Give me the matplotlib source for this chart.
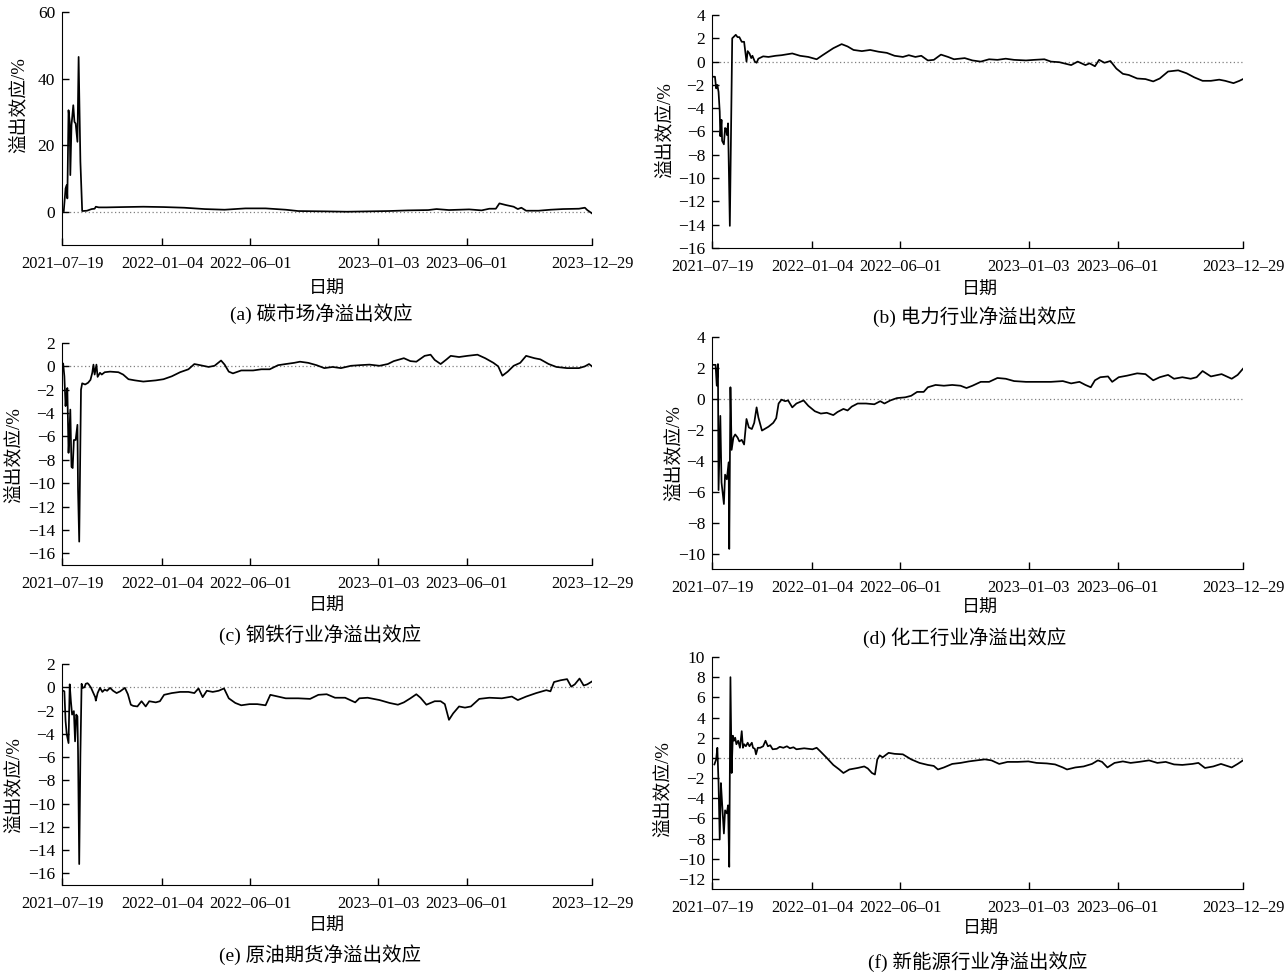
import matplotlib
matplotlib.use('Agg')
import matplotlib.pyplot as plt
import pandas as pd

plt.rcParams['font.family'] = ['Liberation Serif', 'Noto Sans CJK SC']
plt.rcParams['font.size'] = 13

START = pd.Timestamp('2021-07-19')
END = pd.Timestamp('2023-12-29')
tick_dates = ['2021-07-19', '2022-01-04', '2022-06-01', '2023-01-03', '2023-06-01', '2023-12-29']

# x values are days elapsed since 2021-07-19
carbon_day = [3, 6, 8, 9, 11, 13, 14, 16, 19, 21, 23, 26, 28, 31, 34, 42, 50, 55, 57, 62,
              75, 103, 137, 171, 206, 240, 274, 309, 343, 377, 398, 446, 480, 514, 549, 583,
              617, 631, 652, 686, 707, 720, 731, 737, 748, 761, 768, 774, 782, 803, 823, 844,
              871, 881, 885, 893]
carbon_val = [0.2, 7.0, 8.0, 4.0, 30.5, 27.0, 11.0, 26.0, 32.0, 27.0, 26.5, 21.0, 46.5, 15.0, 0.2,
              0.3, 0.8, 0.9, 1.5, 1.3, 1.3, 1.4, 1.5, 1.4, 1.2, 0.8, 0.6, 1.0, 1.0, 0.6, 0.2, 0.1,
              0.0, 0.1, 0.2, 0.4, 0.5, 0.8, 0.5, 0.7, 0.4, 0.9, 0.9, 2.5, 2.0, 1.5, 0.8, 1.2, 0.3,
              0.3, 0.6, 0.8, 0.9, 1.2, 0.5, -0.5]

power_day = [0, 5, 7, 9, 11, 13, 14, 16, 17, 20, 22, 24, 25, 27, 30, 34, 38, 40, 43, 46,
             50, 54, 58, 60, 63, 66, 68, 72, 75, 78, 86, 95, 107, 117, 135, 148, 162, 176, 186,
             204, 218, 228, 238, 252, 266, 280, 294, 307, 321, 331, 342, 352, 363, 373, 385,
             397, 407, 425, 438, 452, 466, 480, 494, 508, 528, 542, 559, 570, 584, 604, 615,
             628, 635, 644, 651, 660, 670, 680, 691, 701, 715, 729, 742, 753, 767, 784, 798,
             811, 825, 839, 853, 863, 877, 887, 893]
power_val = [-1.3, -1.3, -2.3, -2.0, -2.6, -4.3, -6.4, -5.0, -6.8, -7.1, -5.7, -5.8, -6.3, -5.3,
             -14.1, 2.0, 2.2, 2.3, 2.1, 2.1, 1.7, 1.7, 0.0, 0.9, 0.7, 0.3, 0.5, 0.0, -0.1, 0.25,
             0.45, 0.4, 0.5, 0.55, 0.7, 0.5, 0.4, 0.2, 0.55, 1.15, 1.5, 1.3, 1.0, 0.9, 1.0, 0.85,
             0.75, 0.5, 0.4, 0.55, 0.4, 0.5, 0.1, 0.15, 0.6, 0.4, 0.2, 0.3, 0.1, 0.0, 0.2, 0.15,
             0.25, 0.15, 0.1, 0.15, 0.2, 0.0, -0.05, -0.3, 0.0, -0.3, -0.15, -0.4, 0.15, -0.1,
             0.05, -0.6, -1.05, -1.15, -1.45, -1.5, -1.7, -1.45, -0.85, -0.75, -1.0, -1.35,
             -1.65, -1.65, -1.55, -1.65, -1.85, -1.65, -1.5]

steel_day = [2, 4, 6, 7, 9, 11, 12, 14, 16, 18, 20, 23, 26, 27, 29, 32, 34, 39, 44, 48,
             51, 53, 55, 58, 60, 64, 67, 72, 81, 95, 103, 112, 123, 137, 158, 171, 185, 199,
             213, 223, 233, 247, 257, 268, 274, 281, 288, 302, 322, 336, 350, 364, 377, 391,
             401, 415, 429, 442, 456, 470, 487, 501, 518, 535, 549, 559, 576, 587, 597, 611,
             621, 628, 638, 648, 655, 669, 683, 700, 713, 727, 735, 742, 751, 761, 772, 782,
             796, 806, 820, 833, 851, 871, 881, 888, 893]
steel_val = [0.23, -0.85, -3.4, -2.7, -1.85, -7.4, -6.3, -3.7, -8.6, -8.7, -6.3, -6.3, -5.0,
             -10.6, -15.0, -2.0, -1.45, -1.55, -1.4, -1.15, -0.55, 0.15, -0.7, 0.15, -0.9, -0.55,
             -0.7, -0.5, -0.45, -0.5, -0.7, -1.1, -1.2, -1.3, -1.2, -1.1, -0.85, -0.5, -0.25, 0.2,
             0.1, -0.05, 0.05, 0.5, 0.15, -0.45, -0.6, -0.35, -0.35, -0.25, -0.25, 0.1, 0.2, 0.3,
             0.4, 0.3, 0.1, -0.15, -0.05, -0.15, 0.05, 0.1, 0.15, 0.05, 0.2, 0.45, 0.7, 0.45, 0.4,
             0.9, 1.0, 0.55, 0.2, 0.6, 0.9, 0.8, 0.9, 1.0, 0.7, 0.3, 0.0, -0.8, -0.45, 0.05, 0.3,
             0.9, 0.7, 0.6, 0.2, -0.05, -0.15, -0.15, 0.0, 0.2, 0.0]

chem_day = [2, 6, 8, 10, 11, 14, 16, 20, 22, 25, 28, 29, 31, 33, 36, 39, 43, 46, 50, 54,
            58, 62, 67, 71, 75, 78, 84, 95, 103, 108, 112, 117, 123, 128, 135, 142, 154, 162,
            173, 183, 193, 204, 211, 221, 228, 235, 245, 259, 273, 283, 290, 300, 311, 325,
            335, 345, 356, 363, 376, 390, 404, 418, 428, 438, 452, 466, 480, 494, 508, 528,
            549, 570, 590, 604, 618, 628, 637, 644, 653, 666, 673, 684, 698, 715, 729, 742,
            753, 767, 777, 791, 805, 815, 825, 839, 857, 874, 884, 893]
chem_val = [2.2, 2.2, 0.85, 2.25, -5.9, -1.1, -5.4, -6.8, -4.9, -5.2, -4.1, -9.7, 0.75, -3.3,
            -2.5, -2.3, -2.5, -2.75, -2.65, -2.95, -1.3, -1.85, -1.95, -1.55, -0.55, -1.2, -2.05,
            -1.8, -1.55, -1.25, -0.3, -0.05, -0.15, -0.1, -0.55, -0.3, -0.1, -0.45, -0.8, -0.95,
            -0.9, -1.05, -0.85, -0.65, -0.75, -0.5, -0.3, -0.3, -0.35, -0.15, -0.3, -0.1, 0.05,
            0.1, 0.2, 0.45, 0.45, 0.75, 0.9, 0.85, 0.9, 0.85, 0.7, 0.85, 1.1, 1.1, 1.35, 1.3,
            1.15, 1.1, 1.1, 1.1, 1.15, 1.0, 1.1, 0.9, 0.75, 1.2, 1.4, 1.45, 1.1, 1.4, 1.5, 1.65,
            1.6, 1.2, 1.4, 1.55, 1.3, 1.4, 1.3, 1.4, 1.8, 1.45, 1.6, 1.3, 1.55, 1.95]

oil_day = [2, 4, 6, 8, 11, 13, 15, 17, 20, 22, 24, 26, 27, 29, 31, 33, 35, 38, 40, 43,
           45, 49, 52, 56, 57, 60, 64, 68, 72, 76, 81, 86, 92, 98, 102, 106, 111, 116, 120,
           127, 134, 141, 147, 158, 165, 172, 185, 199, 213, 223, 230, 237, 244, 254, 264,
           273, 281, 292, 302, 316, 329, 343, 351, 364, 377, 398, 418, 432, 446, 460, 477,
           494, 501, 515, 535, 552, 566, 576, 587, 597, 604, 614, 628, 638, 645, 652, 659,
           669, 679, 689, 703, 720, 741, 758, 768, 782, 799, 816, 823, 829, 840, 851, 858,
           864, 872, 879, 885, 893]
oil_val = [-0.3, -0.35, -2.9, -4.05, -4.8, 0.25, -1.2, -2.35, -2.05, -4.65, -2.35, -2.5, -5.5,
           -15.2, -5.8, 0.3, -0.05, 0.0, 0.3, 0.35, 0.25, -0.05, -0.4, -0.85, -1.15, -0.5, -0.05,
           -0.4, -0.2, -0.3, -0.05, -0.3, -0.5, -0.35, -0.2, -0.05, -0.6, -1.5, -1.6, -1.65, -1.2,
           -1.65, -1.2, -1.3, -1.2, -0.65, -0.5, -0.4, -0.4, -0.5, -0.1, -0.85, -0.3, -0.4, -0.3,
           -0.1, -0.95, -1.35, -1.55, -1.45, -1.45, -1.55, -0.65, -0.8, -0.95, -0.95, -1.0,
           -0.65, -0.6, -0.9, -0.9, -1.3, -0.95, -0.9, -1.1, -1.35, -1.5, -1.3, -0.95, -0.6,
           -0.9, -1.5, -1.2, -1.2, -1.45, -2.8, -2.25, -1.65, -1.75, -1.65, -1.0, -0.9, -0.95,
           -0.8, -1.1, -0.8, -0.5, -0.25, -0.35, 0.45, 0.6, 0.7, 0.05, 0.25, 0.75, 0.15, 0.25,
           0.5]

newen_day = [4, 7, 9, 11, 13, 15, 17, 20, 22, 25, 27, 29, 31, 33, 35, 37, 39, 41, 44, 47,
             50, 52, 54, 57, 60, 63, 67, 69, 72, 74, 77, 81, 86, 90, 94, 98, 102, 109, 114,
             120, 126, 131, 137, 142, 155, 169, 176, 183, 193, 204, 214, 221, 231, 245, 256,
             262, 269, 274, 278, 282, 287, 297, 307, 321, 335, 349, 363, 373, 380, 390, 404,
             418, 432, 445, 459, 470, 483, 497, 514, 532, 546, 563, 577, 590, 597, 611, 625,
             639, 649, 656, 665, 677, 691, 704, 718, 735, 749, 763, 777, 791, 808, 818, 829,
             843, 856, 874, 884, 893]
newen_val = [-0.65, -0.15, 1.0, -2.5, -8.1, -2.5, -4.5, -7.5, -5.2, -5.5, -4.7, -10.8, 8.0,
             -1.5, 2.2, 1.7, 2.0, 1.35, 1.7, 1.0, 2.65, 1.0, 1.35, 1.15, 1.5, 1.15, 1.5, 1.0, 0.9,
             0.35, 1.0, 1.0, 1.15, 1.7, 1.15, 1.25, 0.85, 0.9, 1.1, 1.0, 1.15, 0.95, 1.05, 0.85,
             0.95, 0.85, 1.0, 0.6, 0.0, -0.7, -1.15, -1.5, -1.15, -1.0, -0.85, -1.05, -1.5, -1.65,
             -0.15, 0.25, 0.05, 0.5, 0.4, 0.35, -0.15, -0.5, -0.7, -0.8, -1.15, -0.95, -0.6, -0.5,
             -0.35, -0.25, -0.15, -0.25, -0.6, -0.4, -0.4, -0.35, -0.5, -0.55, -0.65, -0.95,
             -1.15, -0.95, -0.85, -0.6, -0.25, -0.4, -0.95, -0.5, -0.35, -0.5, -0.4, -0.25, -0.5,
             -0.4, -0.65, -0.7, -0.6, -0.5, -1.0, -0.85, -0.6, -0.95, -0.6, -0.25]

captions = ['(a) 碳市场净溢出效应', '(b) 电力行业净溢出效应', '(c) 钢铁行业净溢出效应',
            '(d) 化工行业净溢出效应', '(e) 原油期货净溢出效应', '(f) 新能源行业净溢出效应']

W, H = 1284, 973


def px_box(left, top, right, bottom):
    return [left / W, 1 - bottom / H, (right - left) / W, (bottom - top) / H]


def draw_panel(fig, box, days, vals, ylim, yticks, caption, cap_xy, lab_xy, ylab_xy):
    ax = fig.add_axes(px_box(*box))
    dates = START + pd.to_timedelta(days, unit='D')
    ax.axhline(0, color='#808080', lw=0.9, ls=(0, (1, 2)), zorder=1)
    ax.plot(dates, vals, color='black', lw=1.25, zorder=2)
    ax.set_xlim(START, END)
    ax.set_ylim(*ylim)
    ax.set_yticks(yticks)
    ax.set_xticks(pd.to_datetime(tick_dates))
    ax.set_xticklabels([d.replace('-', '–') for d in tick_dates])
    ax.tick_params(direction='in', length=5, width=1, labelsize=11.8)
    ax.tick_params(axis='x', pad=8)
    ax.tick_params(axis='y', labelsize=12.5, pad=5)
    for s in ['top', 'right']:
        ax.spines[s].set_visible(False)
    ax.set_ylabel('溢出效应/%', fontsize=13.5)
    ax.yaxis.set_label_coords(*ylab_xy)
    fig.text(lab_xy[0] / W, 1 - lab_xy[1] / H, '日期', ha='center', va='center', fontsize=13)
    fig.text(cap_xy[0] / W, 1 - cap_xy[1] / H, caption, ha='center', va='center', fontsize=14)
    return ax


def main():
    fig = plt.figure(figsize=(W / 100, H / 100), dpi=100)
    draw_panel(fig, (62, 12, 592, 245), carbon_day, carbon_val, (-10, 60), [0, 20, 40, 60],
               captions[0], (321, 314), (327, 289), (-0.064, 0.60))
    draw_panel(fig, (712, 15, 1243, 248), power_day, power_val, (-16, 4), range(-16, 5, 2),
               captions[1], (975, 317), (980, 290), (-0.073, 0.506))
    draw_panel(fig, (62, 343, 592, 565), steel_day, steel_val, (-17, 2), range(-16, 3, 2),
               captions[2], (320, 635), (327, 606), (-0.075, 0.495))
    draw_panel(fig, (712, 337, 1243, 569), chem_day, chem_val, (-11, 4), range(-10, 5, 2),
               captions[3], (965, 638), (980, 608), (-0.055, 0.50))
    draw_panel(fig, (62, 664, 592, 885), oil_day, oil_val, (-17, 2), range(-16, 3, 2),
               captions[4], (320, 955), (327, 926), (-0.075, 0.45))
    draw_panel(fig, (712, 657, 1243, 889), newen_day, newen_val, (-13, 10), range(-12, 11, 2),
               captions[5], (978, 962), (981, 929), (-0.075, 0.43))
    plt.savefig('out.png', dpi=100)


if __name__ == '__main__':
    main()
